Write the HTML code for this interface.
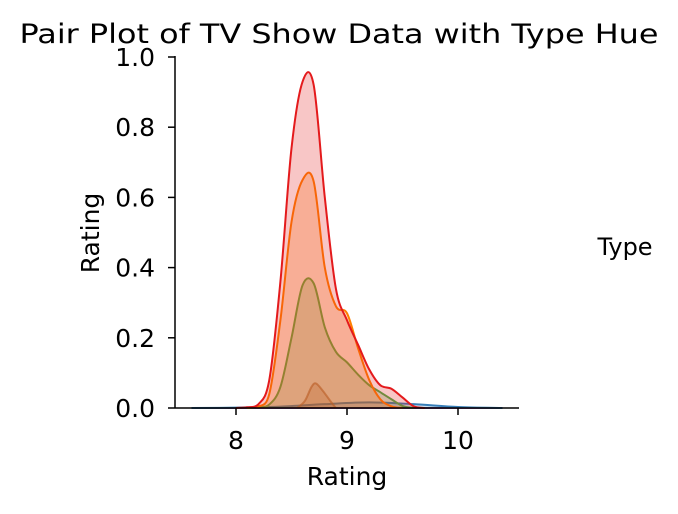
<!DOCTYPE html>
<html><head><meta charset="utf-8">
<style>
body{margin:0;background:#fff;}
svg text{font-family:"DejaVu Sans","Liberation Sans",sans-serif;fill:#000;}
</style></head>
<body>
<svg id="chart" width="678" height="509">
<text x="339" y="43" font-size="27" text-anchor="middle" textLength="639" lengthAdjust="spacingAndGlyphs">Pair Plot of TV Show Data with Type Hue</text>
<g id="marks"></g>
<g id="axes"></g>
<text x="625" y="255" font-size="24" text-anchor="middle">Type</text>
</svg>
<script>
const xTicks=[8,9,10];
const yTicks=[0.0,0.2,0.4,0.6,0.8,1.0];
const xLabel="Rating", yLabel="Rating";
const blueX=[7.6,8.0,8.4,8.8,9.2,9.6,10.0,10.4];
const blueY=[0,0.001,0.004,0.011,0.016,0.011,0.003,0];
const purpleX=[7.6,10.4];
const purpleY=[0,0];
const brownX=[8.55,8.62,8.68,8.72,8.78,8.85,8.9];
const brownY=[0,0.02,0.06,0.07,0.05,0.02,0];
const greenX=[8.1,8.2,8.3,8.4,8.5,8.6,8.7,8.8,8.9,9.0,9.1,9.2,9.3,9.4,9.5,9.6];
const greenY=[0,0.002,0.01,0.06,0.2,0.35,0.355,0.23,0.16,0.13,0.095,0.065,0.045,0.025,0.006,0];
const orangeX=[8.1,8.2,8.3,8.4,8.5,8.6,8.7,8.8,8.9,9.0,9.1,9.2,9.3,9.4,9.5];
const orangeY=[0,0.004,0.04,0.25,0.53,0.65,0.645,0.4,0.29,0.27,0.17,0.08,0.025,0.005,0];
const redX=[8.0,8.1,8.2,8.3,8.4,8.5,8.6,8.7,8.8,8.9,9.0,9.1,9.2,9.3,9.4,9.5,9.6,9.7];
const redY=[0,0.002,0.01,0.08,0.36,0.74,0.93,0.92,0.6,0.34,0.25,0.18,0.11,0.065,0.055,0.03,0.005,0];

const L=175,B=408,R=519,T=57;
const sx=v=>236+(v-8)*111;
const sy=v=>B-v*(B-T);
const NS="http://www.w3.org/2000/svg";
function mk(tag,attrs,parent){const e=document.createElementNS(NS,tag);for(const k in attrs)e.setAttribute(k,attrs[k]);parent.appendChild(e);return e;}
function pathD(xs,ys){
  const p=xs.map((x,i)=>[sx(x),sy(ys[i])]);
  let d="M"+p[0][0]+","+p[0][1];
  for(let i=0;i<p.length-1;i++){
    const p0=p[Math.max(i-1,0)],p1=p[i],p2=p[i+1],p3=p[Math.min(i+2,p.length-1)];
    let c1y=p1[1]+(p2[1]-p0[1])/6, c2y=p2[1]-(p3[1]-p1[1])/6;
    c1y=Math.min(c1y,B);c2y=Math.min(c2y,B);
    d+=" C"+(p1[0]+(p2[0]-p0[0])/6)+","+c1y+" "+(p2[0]-(p3[0]-p1[0])/6)+","+c2y+" "+p2[0]+","+p2[1];
  }
  return d;
}
const marks=document.getElementById('marks');
const series=[
 ["purple",purpleX,purpleY,"#984ea3",1],
 ["blue",blueX,blueY,"#377eb8",1],
 ["brown",brownX,brownY,"#a65628",0.6],
 ["green",greenX,greenY,"#4daf4a",1],
 ["orange",orangeX,orangeY,"#ff7f00",1],
 ["red",redX,redY,"#e41a1c",1]
];
series.forEach(s=>{
  const d=pathD(s[1],s[2]);
  const f=mk('path',{d:d+" L"+sx(s[1][s[1].length-1])+","+B+" L"+sx(s[1][0])+","+B+" Z",fill:s[3],'fill-opacity':0.25,stroke:'none'},marks);
  
  
  const l=mk('path',{d:d,fill:'none',stroke:s[3],'stroke-width':2,'stroke-opacity':s[4]},marks);
  
  
});
const ax=document.getElementById('axes');
const yl=mk('line',{x1:L,y1:T-1,x2:L,y2:B,stroke:'#000','stroke-width':1.5},ax);


const xl=mk('line',{x1:L,y1:B,x2:R,y2:B,stroke:'#000','stroke-width':1.5},ax);


xTicks.forEach(t=>{
  mk('line',{x1:sx(t),y1:B,x2:sx(t),y2:B+7,stroke:'#000','stroke-width':1.5},ax);
  const tx=mk('text',{x:sx(t),y:B+41,'font-size':25,'text-anchor':'middle'},ax);
  tx.textContent=t;
  
  
});
yTicks.forEach(t=>{
  mk('line',{x1:L-7,y1:sy(t),x2:L,y2:sy(t),stroke:'#000','stroke-width':1.5},ax);
  const tx=mk('text',{x:L-20,y:sy(t)+9,'font-size':25,'text-anchor':'end'},ax);
  tx.textContent=t.toFixed(1);
  
  
});
const xt=mk('text',{x:347,y:485,'font-size':25,'text-anchor':'middle'},ax);
xt.textContent=xLabel;


const yt=mk('text',{x:0,y:0,'font-size':25,'text-anchor':'middle',transform:'translate(99,233) rotate(-90)'},ax);
yt.textContent=yLabel;


</script>
</body></html>
